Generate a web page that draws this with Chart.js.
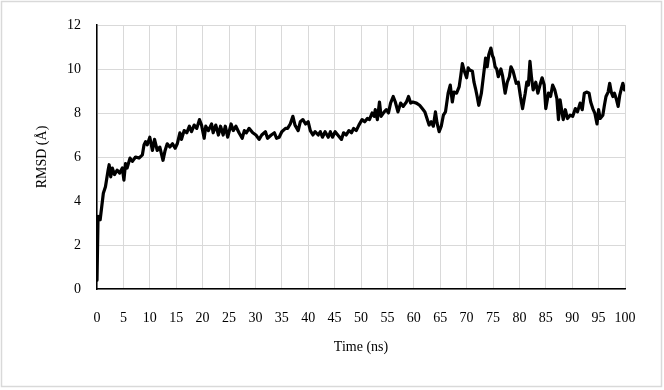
<!DOCTYPE html>
<html>
<head>
<meta charset="utf-8">
<script src="https://cdn.jsdelivr.net/npm/chart.js@4/dist/chart.umd.min.js"></script>
<style>
  html, body { margin: 0; padding: 0; background: #ffffff; }
  #wrap { width: 664px; height: 390px; position: relative; }
</style>
</head>
<body>
<div id="wrap"><canvas id="c" width="664" height="390"></canvas></div>
<script>
const timeNs = [0.0,0.2,0.6,1.2,1.6,2.1,2.3,2.6,2.9,3.3,3.8,4.3,4.8,5.1,5.4,5.7,6.25,6.7,7.3,7.95,8.6,8.9,9.2,9.5,10.0,10.5,10.9,11.4,11.9,12.5,12.9,13.3,13.8,14.3,14.8,15.2,15.7,16.0,16.5,17.0,17.5,17.9,18.4,18.9,19.4,19.8,20.3,20.6,21.1,21.7,22.0,22.5,23.0,23.4,23.9,24.3,24.75,25.4,25.8,26.3,26.9,27.5,27.9,28.3,28.8,29.5,30.1,30.7,31.2,31.9,32.3,33.0,33.6,34.0,34.5,35.0,35.7,36.1,36.6,37.1,37.5,38.1,38.5,39.0,39.5,40.0,40.4,40.9,41.3,41.9,42.3,42.7,43.2,43.8,44.2,44.6,45.1,45.6,46.3,46.7,47.2,47.7,48.2,48.6,49.1,49.6,50.2,50.7,51.2,51.6,52.1,52.5,52.7,53.1,53.5,53.8,54.4,54.8,55.2,55.6,56.1,56.5,57.0,57.5,58.0,58.6,59.0,59.4,59.8,60.5,61.1,61.6,62.1,62.5,62.9,63.3,63.7,64.1,64.4,64.8,65.2,65.6,66.0,66.5,66.9,67.3,67.6,68.1,68.6,68.9,69.2,69.5,70.0,70.3,70.6,71.1,71.4,71.7,72.0,72.3,72.8,73.2,73.6,73.9,74.2,74.6,74.9,75.1,75.4,75.7,76.0,76.5,76.8,77.3,77.7,78.1,78.4,78.8,79.4,79.8,80.2,80.6,81.1,81.4,81.7,82.0,82.3,82.6,83.1,83.5,83.9,84.3,84.7,85.0,85.5,85.9,86.3,86.7,87.1,87.4,87.7,88.1,88.3,88.7,89.1,89.6,90.1,90.6,91.0,91.5,91.9,92.3,92.8,93.2,93.5,93.9,94.3,94.7,95.0,95.3,95.8,96.1,96.4,96.8,97.1,97.4,97.7,98.0,98.4,98.7,99.0,99.3,99.6,99.9];
const rmsdA = [0.4,3.3,3.15,4.35,4.65,5.4,5.65,5.1,5.5,5.2,5.4,5.27,5.5,4.95,5.7,5.5,5.95,5.8,6.0,5.95,6.1,6.55,6.7,6.55,6.9,6.3,6.8,6.3,6.45,5.85,6.3,6.6,6.45,6.6,6.4,6.6,7.1,6.8,7.2,7.1,7.4,7.15,7.45,7.3,7.7,7.45,6.85,7.4,7.2,7.5,7.1,7.45,7.0,7.4,7.0,7.4,6.9,7.5,7.2,7.4,7.1,6.85,7.2,7.1,7.3,7.1,7.0,6.8,7.0,7.15,6.85,7.0,7.1,6.85,6.9,7.15,7.3,7.3,7.5,7.85,7.45,7.2,7.6,7.7,7.5,7.6,7.2,7.0,7.15,7.0,7.15,6.9,7.15,6.9,7.15,6.9,7.15,7.0,6.8,7.1,7.0,7.2,7.1,7.3,7.2,7.45,7.7,7.6,7.75,7.7,8.0,7.85,8.15,7.7,8.5,7.85,8.05,8.15,8.0,8.45,8.75,8.5,8.05,8.45,8.3,8.5,8.75,8.45,8.5,8.45,8.35,8.2,8.05,7.75,7.45,7.6,7.4,8.05,7.55,7.15,7.4,7.9,8.05,8.9,9.27,8.5,8.95,8.9,9.2,9.7,10.25,9.95,9.6,10.05,9.95,9.9,9.4,9.1,8.75,8.35,8.9,9.7,10.5,10.1,10.65,10.95,10.6,10.5,10.1,10.0,9.65,10.0,9.7,8.9,9.4,9.65,10.1,9.9,9.35,9.4,8.75,8.2,8.9,9.4,9.27,10.35,9.6,9.05,9.4,8.9,9.27,9.6,9.27,8.2,8.9,8.75,9.27,9.05,8.65,7.7,8.6,7.98,7.7,8.15,7.75,7.9,7.85,8.2,8.05,8.45,8.15,8.9,8.95,8.9,8.5,8.2,7.98,7.5,8.15,7.75,7.9,8.35,8.75,8.95,9.35,8.95,8.75,8.9,8.6,8.3,8.8,9.1,9.35,9.05];
const xTicks = [0,5,10,15,20,25,30,35,40,45,50,55,60,65,70,75,80,85,90,95,100];
const yTicks = [0,2,4,6,8,10,12];
const xTitle = 'Time (ns)';
const yTitle = 'RMSD (Å)';

const points = timeNs.map((t, i) => ({x: t, y: rmsdA[i]}));
const FONT = 'Liberation Serif, "Times New Roman", serif';

const borderPlugin = {
  id: 'outerBorder',
  beforeDraw(chart) {
    const ctx = chart.ctx;
    ctx.save();
    ctx.fillStyle = '#ffffff';
    ctx.fillRect(0, 0, chart.width, chart.height);
    ctx.strokeStyle = '#d9d9d9';
    ctx.lineWidth = 1.5;
    ctx.strokeRect(1.5, 1.5, 660, 385);
    ctx.restore();
  }
};

new Chart(document.getElementById('c'), {
  type: 'scatter',
  data: {
    datasets: [{
      data: points,
      showLine: true,
      borderColor: '#000000',
      borderWidth: 3.2,
      borderJoinStyle: 'round',
      borderCapStyle: 'round',
      pointRadius: 0,
      tension: 0,
      fill: false
    }]
  },
  options: {
    responsive: false,
    animation: false,
    devicePixelRatio: 1,
    layout: { padding: { left: 0, right: 39, top: 25, bottom: 0 } },
    plugins: { legend: { display: false }, tooltip: { enabled: false } },
    scales: {
      x: {
        type: 'linear',
        min: 0, max: 100,
        afterFit(s) { s.height = 101; },
        afterBuildTicks(s) { s.ticks = xTicks.map(v => ({value: v})); },
        grid: { color: '#d9d9d9', lineWidth: 1, drawTicks: false },
        border: { color: '#000000', width: 1.5 },
        ticks: { color: '#000000', padding: 21, maxRotation: 0, autoSkip: false, font: { family: FONT, size: 14 } },
        title: { display: true, text: xTitle, color: '#000000', font: { family: FONT, size: 14 }, padding: { top: 0, bottom: 34 } }
      },
      y: {
        type: 'linear',
        min: 0, max: 12,
        afterFit(s) { s.width = 97; },
        afterBuildTicks(s) { s.ticks = yTicks.map(v => ({value: v})); },
        grid: { color: '#d9d9d9', lineWidth: 1, drawTicks: false },
        border: { color: '#000000', width: 1.5 },
        ticks: { color: '#000000', padding: 16, font: { family: FONT, size: 14 } },
        title: { display: true, text: yTitle, color: '#000000', font: { family: FONT, size: 14 }, padding: { top: 34, bottom: 0 } }
      }
    }
  },
  plugins: [borderPlugin]
});
</script>
</body>
</html>
